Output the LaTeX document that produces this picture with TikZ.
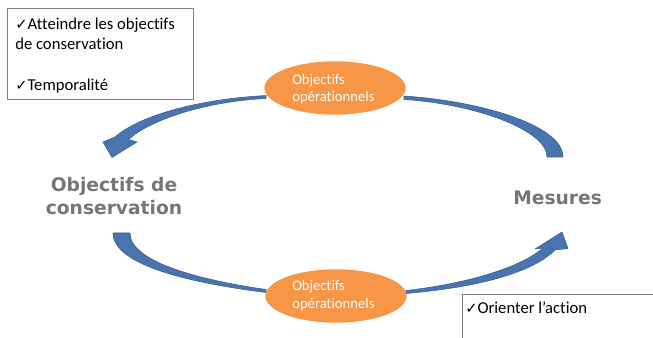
\documentclass[tikz,border=0pt]{standalone}
\usepackage{fontspec}
\setmainfont{Carlito}[Ligatures={NoCommon,NoContextual}]
\newfontfamily\djv{DejaVu Sans}
\usetikzlibrary{shapes.geometric}
\definecolor{arrowblue}{RGB}{72,117,176}
\definecolor{arrowedge}{RGB}{56,93,138}
\definecolor{orangeF}{RGB}{247,150,70}
\definecolor{boxgray}{RGB}{128,128,128}
\definecolor{txtgray}{RGB}{118,118,118}
\newcommand{\chk}{{\djv\fontsize{11}{11}\selectfont ✓}}
\begin{document}
\begin{tikzpicture}[x=0.75pt,y=-0.75pt,
  blockarrow/.style={fill=arrowblue, draw=arrowedge, line width=0.4pt, line join=round},
  ell/.style={ellipse, fill=orangeF, minimum width=106pt, minimum height=40pt, inner sep=0pt},
  elltext/.style={anchor=base west, text=white, font=\fontsize{11}{12}\selectfont, inner sep=0pt},
  boxtext/.style={anchor=base west, font=\fontsize{12.5}{15}\selectfont, inner sep=0pt},
  frame/.style={draw=boxgray, line width=0.75pt, anchor=north west, inner sep=0pt},
  bigtext/.style={text=txtgray, font=\djv\bfseries\fontsize{14}{17.5}\selectfont, inner sep=0pt}]
\useasboundingbox (0,0) rectangle (653,338);
\clip (0,0) rectangle (653,338);

% text boxes
\node[frame, minimum width=139.5pt, minimum height=68.25pt] (box1) at (7,8) {};
\node[frame, minimum width=200pt, minimum height=40pt] (box2) at (462,294) {};
\node[boxtext] (t1) at (15,30) {\chk Atteindre les objectifs};
\node[boxtext] (t2) at (15,50) {de conservation};
\node[boxtext] (t3) at (15,90.5) {\chk Temporalité};
\node[boxtext] (t4) at (465,313) {\chk Orienter l’action};

% curved block arrows
\draw[blockarrow] (266,95.5) .. controls (200,99) and (140,115) .. (115,137)
  -- (103,142) -- (112,157.5) -- (137,142) -- (128.5,139.5)
  .. controls (150,120) and (205,101.5) .. (266,98.5) -- cycle;
\draw[blockarrow] (404,96) .. controls (480,101) and (563,125) .. (563,157)
  -- (547,157) .. controls (547,130) and (475,104) .. (404,99.5) -- cycle;
\draw[blockarrow] (113,233) -- (130,233) .. controls (130,262) and (200,280) .. (266,289.5)
  -- (266,292.5) .. controls (190,283) and (113,265) .. (113,233) -- cycle;
\draw[blockarrow] (406,293.5) .. controls (470,288) and (530,275) .. (555,250)
  -- (568,248.5) -- (562,232) -- (535,249) -- (543,248)
  .. controls (520,268) and (465,284) .. (406,290.5) -- cycle;

% ellipses
\node[ell] (e1) at (335,88) {};
\node[elltext] (e1a) at (292,85) {Objectifs};
\node[elltext] (e1b) at (292,102) {opérationnels};
\node[ell] (e2) at (336,296) {};
\node[elltext] (e2a) at (292,291) {Objectifs};
\node[elltext] (e2b) at (292,308) {opérationnels};

% big labels
\node[bigtext, anchor=base] (oc1) at (114,191.7) {Objectifs de};
\node[bigtext, anchor=base] (oc2) at (114,215) {conservation};
\node[bigtext, anchor=base west] (mes) at (513,205) {Mesures};
\end{tikzpicture}
\end{document}
